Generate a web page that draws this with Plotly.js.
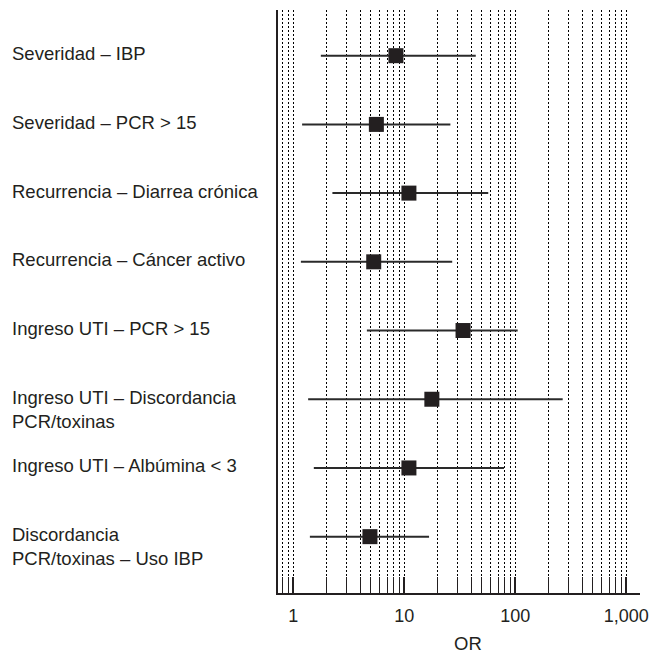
<!DOCTYPE html>
<html>
<head>
<meta charset="utf-8">
<script src="https://cdn.plot.ly/plotly-3.0.1.min.js"></script>
<style>
html,body{margin:0;padding:0;background:#fff;}
#chart{width:652px;height:654px;}
</style>
</head>
<body>
<div id="chart"></div>
<script>
// ---- data ----
const labels = [
  "Severidad – IBP",
  "Severidad – PCR > 15",
  "Recurrencia – Diarrea crónica",
  "Recurrencia – Cáncer activo",
  "Ingreso UTI – PCR > 15",
  "Ingreso UTI – Discordancia<br>PCR/toxinas",
  "Ingreso UTI – Albúmina < 3",
  "Discordancia<br>PCR/toxinas – Uso IBP"
];
const orValues = [8.4, 5.6, 11.0, 5.3, 33.8, 17.7, 11.0, 4.9];
const ciLow    = [1.77, 1.2, 2.25, 1.17, 4.6, 1.36, 1.53, 1.41];
const ciHigh   = [44, 26, 57, 27, 105, 267, 79, 16.7];
const tickValues = [1, 10, 100, 1000];
const tickLabels = ["1", "10", "100", "1,000"];
const axisTitle = "OR";

// ---- build ----
const rows = labels.map((_, i) => i);
const ink = "#231f20";
const fontSize = 18.5;
const font = {family: "Liberation Sans, Arial, sans-serif", size: fontSize, color: ink};
const tickFont = {family: "Liberation Sans, Arial, sans-serif", size: 18, color: ink};

const trace = {
  type: "scatter",
  mode: "markers",
  x: orValues,
  y: rows,
  marker: {symbol: "square", size: 15, color: ink},
  error_x: {
    type: "data",
    symmetric: false,
    array: orValues.map((v, i) => ciHigh[i] - v),
    arrayminus: orValues.map((v, i) => v - ciLow[i]),
    thickness: 2,
    width: 0,
    color: "#2a2a2a"
  },
  hoverinfo: "x+y",
  showlegend: false
};

const lineH = fontSize * 1.3;
const annotations = labels.map((t, i) => {
  const n = t.split("<br>").length;
  return {
    xref: "paper", yref: "y",
    x: -0.7403, y: i,
    xanchor: "left", yanchor: "middle",
    align: "left",
    text: t,
    showarrow: false,
    font: font,
    yshift: -(n - 1) * lineH / 2 + 2
  };
});
annotations.push({
  xref: "paper", yref: "paper",
  x: 0.525, y: 0, yshift: -38,
  xanchor: "center", yanchor: "top",
  text: axisTitle, showarrow: false, font: font
});

const layout = {
  width: 652, height: 654,
  margin: {l: 278, r: 12, t: 10, b: 61},
  paper_bgcolor: "#fff", plot_bgcolor: "#fff",
  font: font,
  xaxis: {
    type: "log",
    range: [-0.138, 3.123],
    tickvals: tickValues,
    ticktext: tickLabels,
    ticks: "inside", ticklen: 16, tickwidth: 2, tickcolor: ink,
    ticklabelstandoff: 5,
    showgrid: true, gridcolor: "#000", gridwidth: 1, griddash: "2px,2px",
    minor: {
      dtick: "D1",
      ticks: "inside", ticklen: 16, tickwidth: 1, tickcolor: ink,
      showgrid: true, gridcolor: "#000", gridwidth: 1, griddash: "2px,2px"
    },
    showline: true, linecolor: ink, linewidth: 2,
    zeroline: false,
    tickfont: tickFont,
    title: {text: ""}
  },
  yaxis: {
    range: [7.82, -0.665],
    showticklabels: false,
    ticks: "",
    showgrid: false, zeroline: false,
    showline: true, linecolor: ink, linewidth: 2
  },
  annotations: annotations
};

Plotly.newPlot("chart", [trace], layout, {displayModeBar: false, staticPlot: true});
</script>
</body>
</html>
